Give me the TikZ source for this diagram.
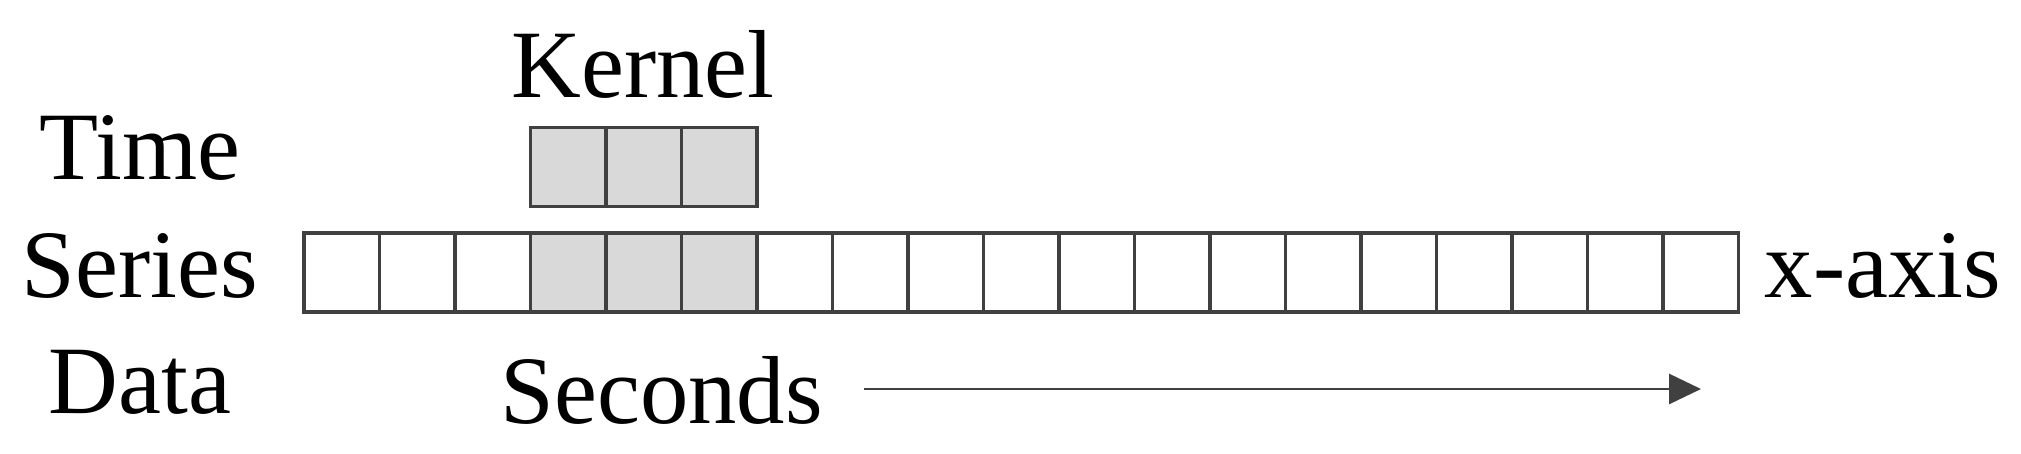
\documentclass[tikz,border=0pt]{standalone}
\usepackage{fontspec}
\setmainfont{Liberation Serif}
\usetikzlibrary{arrows.meta}

\definecolor{linegray}{HTML}{404040}
\definecolor{cellgray}{HTML}{D9D9D9}

\tikzset{
  every cell/.style={draw=linegray, line width=1.1pt, fill=white, inner sep=0pt,
    minimum width=0.755cm, minimum height=0.79cm},
  kernel cell/.style={fill=cellgray},
  cell 4/.style={fill=cellgray},
  cell 5/.style={fill=cellgray},
  cell 6/.style={fill=cellgray},
  every label/.style={font=\fontsize{27.5}{33}\selectfont, inner sep=0pt}
}

\begin{document}
\begin{tikzpicture}[x=1cm, y=1cm, >={Triangle[length=0.32cm,width=0.3cm]}]

\useasboundingbox (0,0) rectangle (20.21,4.53);

\foreach \m [count=\x] in {1,...,19}
  \node [every cell/.try, cell \m/.try] (cell-\m) at (3.04+0.755*\x-0.3775,1.805) {};

\foreach \m [count=\x from 4] in {1,2,3}
  \node [every cell/.try, kernel cell/.try] (kernel-\m) at (3.04+0.755*\x-0.3775,2.86) {};

\node [every label/.try, anchor=base] (kernel-label) at (6.43,3.55) {Kernel};

\foreach \l/\y [count=\i] in {Time/2.73, Series/1.56, Data/0.40}
  \node [every label/.try, anchor=base] (data-\i) at (1.40,\y) {\l};

\node [every label/.try, anchor=base west] (x-axis) at (17.64,1.55) {x-axis};
\node [every label/.try, anchor=base west] (seconds) at (5.00,0.30) {Seconds};

\coordinate (arrow-start) at (8.64,0.64);
\coordinate (arrow-end) at (17.01,0.64);
\draw [->, draw=linegray, fill=linegray, line width=0.85pt] (arrow-start) -- (arrow-end);

\end{tikzpicture}
\end{document}
